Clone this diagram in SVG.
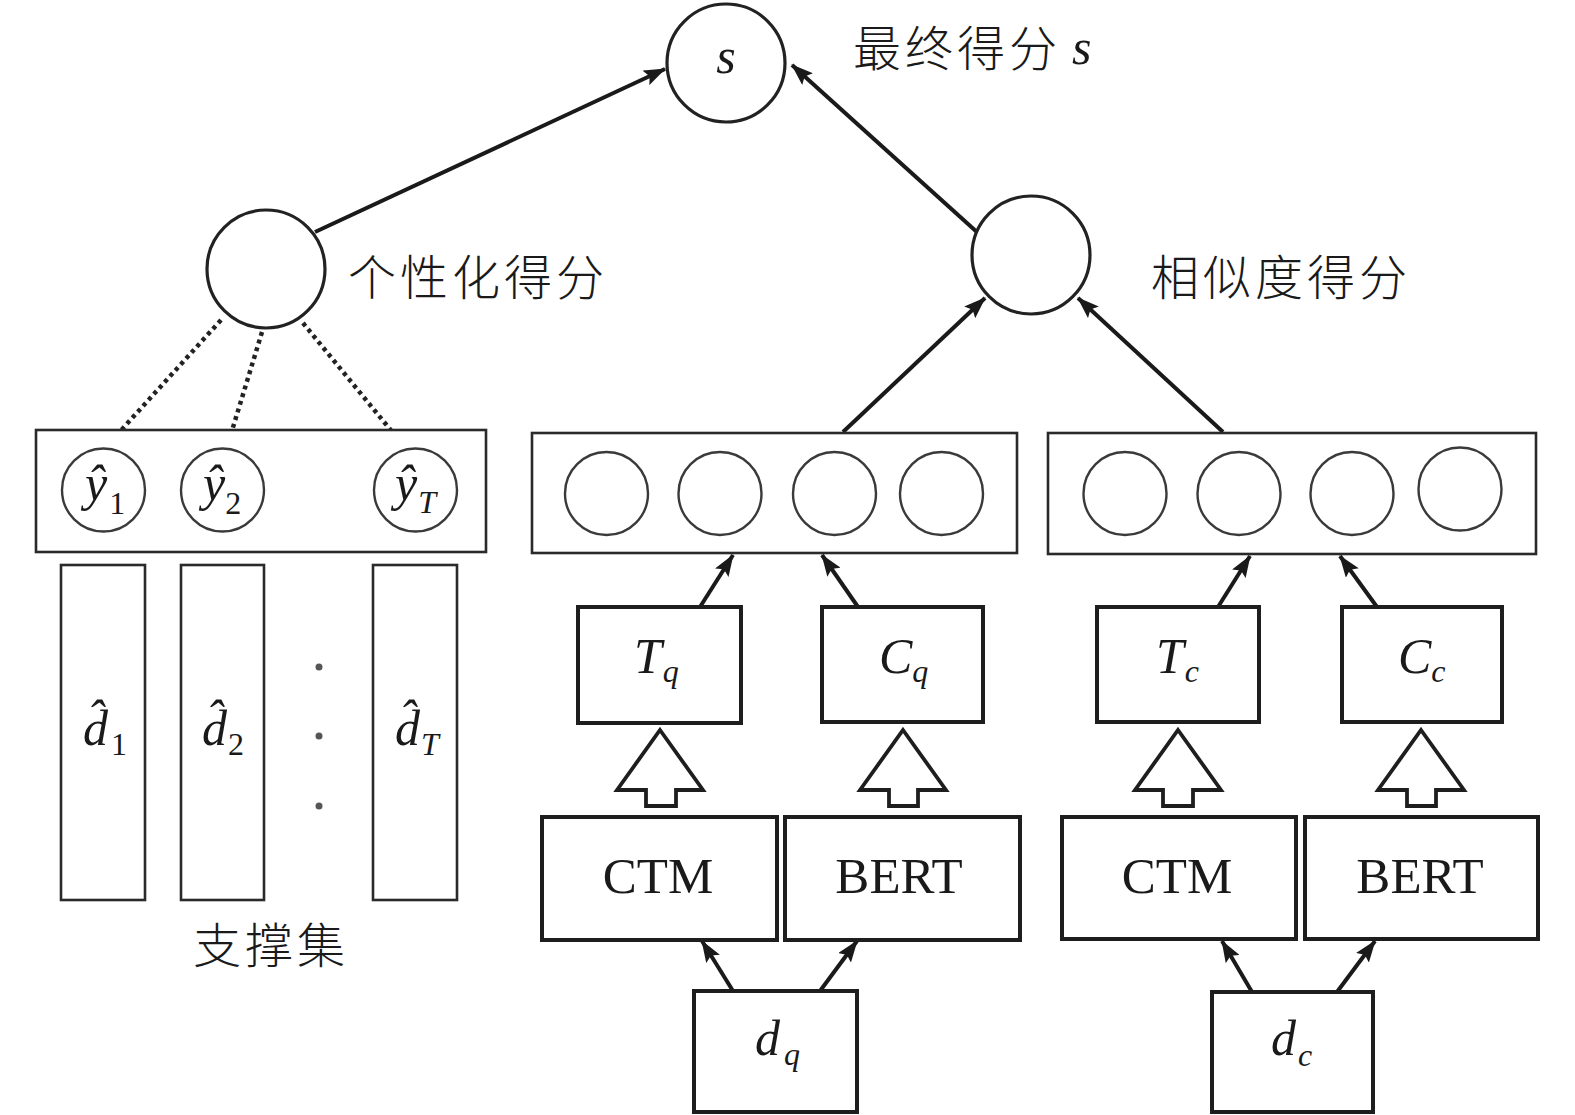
<svg xmlns="http://www.w3.org/2000/svg" width="1575" height="1115" viewBox="0 0 1575 1115">
<defs>
<marker id="ah" markerUnits="userSpaceOnUse" viewBox="0 0 22 16" refX="21" refY="8" markerWidth="22" markerHeight="16" orient="auto">
<path d="M0,0 L22,8 L0,16 L4,8 Z" fill="#1a1a1a"/>
</marker>
<style>
.big{fill:#fff;stroke:#222;stroke-width:3.2}
.sm{fill:#fff;stroke:#3a3a3a;stroke-width:2.4}
.frame{fill:#fff;stroke:#2a2a2a;stroke-width:2.6}
.box{fill:#fff;stroke:#1e1e1e;stroke-width:4}
.col{fill:#fff;stroke:#2a2a2a;stroke-width:2.6}
.edge{fill:none;stroke:#1a1a1a;stroke-width:4;marker-end:url(#ah)}
.dot{fill:none;stroke:#222;stroke-width:4.5;stroke-dasharray:4 4}
.hol{fill:#fff;stroke:#1e1e1e;stroke-width:3.8;stroke-linejoin:miter}
.cjk{font-family:"Noto Sans CJK SC",sans-serif;font-size:48px;letter-spacing:4px;fill:#1a1a1a;font-weight:300}
.mi{font-family:"Liberation Serif",serif;font-style:italic;font-size:50px;fill:#1a1a1a}
.sub{font-family:"Liberation Serif",serif;font-style:italic;font-size:32px}
.subr{font-family:"Liberation Serif",serif;font-style:normal;font-size:32px}
.rm{font-family:"Liberation Serif",serif;font-size:51px;fill:#1a1a1a;text-anchor:middle}
</style>
</defs>
<rect width="1575" height="1115" fill="#fff"/>

<g id="connectors">
<path class="edge" d="M315,232 L665,69"/>
<path class="edge" d="M978,233 L792,65"/>
<path class="edge" d="M843,432 L985,298"/>
<path class="edge" d="M1223,432 L1078,298"/>
<path class="edge" d="M700,607 L733,555"/>
<path class="edge" d="M858,607 L822,555"/>
<path class="edge" d="M1218,607 L1250,556"/>
<path class="edge" d="M1377,607 L1340,556"/>
<path class="edge" d="M733,991 L702,941"/>
<path class="edge" d="M820,991 L857,941"/>
<path class="edge" d="M1252,992 L1222,941"/>
<path class="edge" d="M1337,992 L1375,941"/>
<path class="dot" d="M221,320 L105,448"/>
<path class="dot" d="M262,332 L227,447"/>
<path class="dot" d="M303,323 L407,450"/>
<polygon class="hol" points="660,730 703,790 676,790 676,806 646,806 646,790 617,790"/>
<polygon class="hol" points="903,730 946,790 918,790 918,806 889,806 889,790 860,790"/>
<polygon class="hol" points="1178,730 1221,790 1193,790 1193,806 1163,806 1163,790 1135,790"/>
<polygon class="hol" points="1421,730 1464,790 1436,790 1436,806 1407,806 1407,790 1378,790"/>
</g>

<g id="node-s">
<circle class="big" cx="726" cy="63" r="59"/>
<text class="mi" x="726" y="73" text-anchor="middle">s</text>
</g>
<g id="label-final">
<text class="cjk" x="853" y="66">最终得分</text>
<text class="mi" x="1072" y="64" font-size="46">s</text>
</g>

<g id="node-personal">
<circle class="big" cx="266" cy="269" r="59"/>
<text class="cjk" x="348" y="295">个性化得分</text>
</g>

<g id="node-similarity">
<circle class="big" cx="1031" cy="255" r="59"/>
<text class="cjk" x="1151" y="295">相似度得分</text>
</g>

<g id="node-yhat">
<rect class="frame" x="36" y="430" width="450" height="122"/>
<circle class="sm" cx="103.5" cy="490" r="41.5"/>
<circle class="sm" cx="222.5" cy="490" r="41.5"/>
<circle class="sm" cx="415.5" cy="490" r="41.5"/>
<text class="mi" x="85" y="500">ŷ<tspan class="subr" dx="2" dy="14">1</tspan></text>
<text class="mi" x="203" y="500">ŷ<tspan class="subr" dx="0" dy="14">2</tspan></text>
<text class="mi" x="395" y="500">ŷ<tspan class="sub" dx="1" dy="13">T</tspan></text>
</g>

<g id="node-support">
<rect class="col" x="61" y="565" width="84" height="335"/>
<rect class="col" x="181" y="565" width="83" height="335"/>
<rect class="col" x="373" y="565" width="84" height="335"/>
<text class="mi" x="83" y="745">d&#x302;<tspan class="subr" dx="3" dy="10">1</tspan></text>
<text class="mi" x="202" y="745">d&#x302;<tspan class="subr" dx="1" dy="10">2</tspan></text>
<text class="mi" x="395" y="745">d&#x302;<tspan class="sub" dx="1" dy="10">T</tspan></text>
<circle cx="319" cy="667" r="3.5" fill="#555"/>
<circle cx="319" cy="736" r="3.5" fill="#555"/>
<circle cx="319" cy="806" r="3.5" fill="#555"/>
<text class="cjk" x="193" y="963">支撑集</text>
</g>

<g id="node-qvec">
<rect class="frame" x="532" y="433" width="485" height="120"/>
<circle class="sm" cx="606.5" cy="493.5" r="41.5"/>
<circle class="sm" cx="720" cy="493.5" r="41.5"/>
<circle class="sm" cx="834.5" cy="493.5" r="41.5"/>
<circle class="sm" cx="941.5" cy="493.5" r="41.5"/>
</g>

<g id="node-cvec">
<rect class="frame" x="1048" y="433" width="488" height="121"/>
<circle class="sm" cx="1125" cy="493.5" r="41.5"/>
<circle class="sm" cx="1239" cy="493.5" r="41.5"/>
<circle class="sm" cx="1352" cy="493.5" r="41.5"/>
<circle class="sm" cx="1460" cy="489" r="41.5"/>
</g>

<g id="node-Tq">
<rect class="box" x="578" y="607" width="163" height="116"/>
<text class="mi" x="634" y="673">T<tspan class="sub" dx="1" dy="9">q</tspan></text>
</g>
<g id="node-Cq">
<rect class="box" x="822" y="607" width="161" height="115"/>
<text class="mi" x="879" y="673">C<tspan class="sub" dx="0" dy="9">q</tspan></text>
</g>
<g id="node-Tc">
<rect class="box" x="1097" y="607" width="162" height="115"/>
<text class="mi" x="1156" y="673">T<tspan class="sub" dx="1" dy="9">c</tspan></text>
</g>
<g id="node-Cc">
<rect class="box" x="1342" y="607" width="160" height="115"/>
<text class="mi" x="1398" y="673">C<tspan class="sub" dx="0" dy="9">c</tspan></text>
</g>

<g id="node-CTM-q">
<rect class="box" x="542" y="817" width="235" height="123"/>
<text class="rm" x="658" y="893">CTM</text>
</g>
<g id="node-BERT-q">
<rect class="box" x="785" y="817" width="235" height="123"/>
<text class="rm" x="899" y="893" font-size="50">BERT</text>
</g>
<g id="node-CTM-c">
<rect class="box" x="1062" y="817" width="234" height="122"/>
<text class="rm" x="1177" y="893">CTM</text>
</g>
<g id="node-BERT-c">
<rect class="box" x="1305" y="817" width="233" height="122"/>
<text class="rm" x="1420" y="893" font-size="50">BERT</text>
</g>

<g id="node-dq">
<rect class="box" x="694" y="991" width="163" height="121"/>
<text class="mi" x="755" y="1055">d<tspan class="sub" dx="4" dy="10">q</tspan></text>
</g>
<g id="node-dc">
<rect class="box" x="1212" y="992" width="161" height="120"/>
<text class="mi" x="1271" y="1055">d<tspan class="sub" dx="2" dy="11">c</tspan></text>
</g>
</svg>
